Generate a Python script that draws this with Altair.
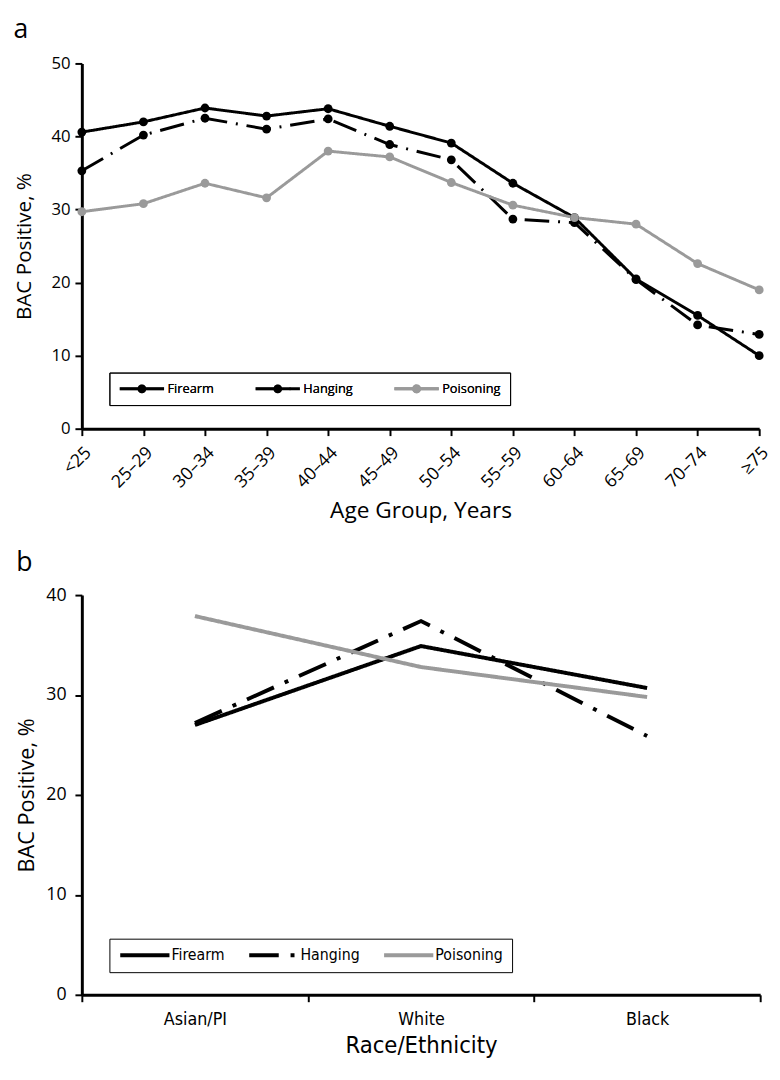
import altair as alt
import pandas as pd

# ---------------- data ----------------
age_groups = ["<25", "25–29", "30–34", "35–39", "40–44", "45–49",
              "50–54", "55–59", "60–64", "65–69", "70–74", "≥75"]
firearm_age = [40.6, 42.0, 43.9, 42.8, 43.8, 41.4, 39.1, 33.6, 28.9, 20.5, 15.5, 10.0]
hanging_age = [35.3, 40.2, 42.5, 41.0, 42.4, 38.9, 36.8, 28.7, 28.2, 20.4, 14.2, 12.9]
poisoning_age = [29.7, 30.8, 33.6, 31.6, 38.0, 37.2, 33.7, 30.6, 28.9, 28.0, 22.6, 19.0]

races = ["Asian/PI", "White", "Black"]
firearm_race = [27.0, 34.9, 30.7]
hanging_race = [27.2, 37.4, 25.9]
poisoning_race = [37.9, 32.8, 29.8]

methods = ["Firearm", "Hanging", "Poisoning"]
method_colors = ["#000000", "#000000", "#9a9a9a"]
y_ticks_age = [0, 10, 20, 30, 40, 50]
y_ticks_race = [0, 10, 20, 30, 40]

SANS = "Open Sans"
NARROW = "Liberation Sans Narrow, DejaVu Sans Condensed, Open Sans"

# legend glyph for panel a: a line with a dot in its middle (unit coordinates)
LINE_DOT = ("M-1,0L1,0"
            "M0.1333,0A0.1333,0.1333,0,1,1,-0.1333,0A0.1333,0.1333,0,1,1,0.1333,0"
            "M0.0533,0A0.0533,0.0533,0,1,1,-0.0533,0A0.0533,0.0533,0,1,1,0.0533,0")

df_age = pd.DataFrame({
    "Age": age_groups * 3,
    "Method": [m for m in methods for _ in age_groups],
    "Value": firearm_age + hanging_age + poisoning_age,
})
df_race = pd.DataFrame({
    "Race": races * 3,
    "Method": [m for m in methods for _ in races],
    "Value": firearm_race + hanging_race + poisoning_race,
})

axis_common = dict(domainColor="black", domainWidth=3, tickColor="black",
                   tickWidth=2, grid=False, labelColor="black",
                   titleColor="black", titleFontWeight="normal")

# ---------------- panel a ----------------
legend_a = alt.Legend(
    title=None, orient="none", legendX=28, legendY=314, direction="horizontal",
    symbolType=LINE_DOT, symbolSize=2025, symbolStrokeWidth=3, clipHeight=15,
    labelFont=SANS, labelFontSize=13, labelColor="black", labelOffset=2,
    columnPadding=40, padding=9, strokeColor="black")

x_age = alt.X("Age:O", sort=age_groups,
              scale=alt.Scale(type="point", padding=0),
              axis=alt.Axis(title="Age Group, Years", titleFont=SANS,
                            titleFontSize=23, titlePadding=9,
                            labelFont=SANS, labelFontSize=18, labelAngle=-45,
                            labelAlign="right", labelBaseline="top",
                            labelPadding=8, tickSize=7, labelOverlap=False,
                            **axis_common))
y_age = alt.Y("Value:Q", scale=alt.Scale(domain=[0, 50], nice=False),
              axis=alt.Axis(values=y_ticks_age, title="BAC Positive, %",
                            titleFont=SANS, titleFontSize=21, titlePadding=17,
                            labelFont=SANS, labelFontSize=17, labelPadding=5,
                            tickSize=7, **axis_common))

lines_a = alt.Chart(df_age).mark_line(strokeWidth=3).encode(
    x=x_age, y=y_age,
    color=alt.Color("Method:N", scale=alt.Scale(domain=methods, range=method_colors),
                    legend=legend_a),
    strokeDash=alt.StrokeDash("Method:N",
                              scale=alt.Scale(domain=methods,
                                              range=[[1, 0], [25, 9, 2, 9], [1, 0]]),
                              legend=legend_a),
)
points_a = alt.Chart(df_age).mark_circle(size=80, opacity=1).encode(
    x=x_age, y=y_age,
    color=alt.Color("Method:N", scale=alt.Scale(domain=methods, range=method_colors),
                    legend=None),
)
panel_a = alt.layer(lines_a, points_a).resolve_scale(color="independent").properties(
    width=688, height=371,
    title=alt.TitleParams("a", anchor="start", frame="bounds", offset=11,
                          font=SANS, fontSize=27, fontWeight="normal", color="black"),
)

# ---------------- panel b ----------------
legend_b = alt.Legend(
    title=None, orient="none", legendX=28, legendY=349, direction="horizontal",
    symbolType="stroke", symbolSize=2500, symbolStrokeWidth=4, clipHeight=15,
    labelFont=NARROW, labelFontSize=16, labelColor="black", labelOffset=0,
    columnPadding=22, padding=9, strokeColor="black")

x_race = alt.X("Race:N", sort=races,
               scale=alt.Scale(type="band", paddingInner=0, paddingOuter=0),
               axis=alt.Axis(title="Race/Ethnicity", titleFont=NARROW,
                             titleFontSize=24, titlePadding=6,
                             labelFont=NARROW, labelFontSize=18, labelAngle=0,
                             labelPadding=9, tickSize=7, tickBand="extent",
                             **axis_common))
y_race = alt.Y("Value:Q", scale=alt.Scale(domain=[0, 40], nice=False),
               axis=alt.Axis(values=y_ticks_race, title="BAC Positive, %",
                             titleFont=SANS, titleFontSize=22, titlePadding=7,
                             labelFont=SANS, labelFontSize=18, labelPadding=9,
                             tickSize=7, **axis_common))

panel_b = alt.Chart(df_race).mark_line(strokeWidth=4).encode(
    x=x_race, y=y_race,
    color=alt.Color("Method:N", scale=alt.Scale(domain=methods, range=method_colors),
                    legend=legend_b),
    strokeDash=alt.StrokeDash("Method:N",
                              scale=alt.Scale(domain=methods,
                                              range=[[1, 0], [30, 12, 4, 12], [1, 0]]),
                              legend=legend_b),
).properties(
    width=689, height=406,
    title=alt.TitleParams("b", anchor="start", frame="bounds", offset=9,
                          font=SANS, fontSize=27, fontWeight="normal", color="black"),
)

chart = alt.vconcat(panel_a, panel_b, spacing=27).resolve_scale(
    color="independent", strokeDash="independent"
).properties(
    padding={"left": 5, "top": 0, "right": 0, "bottom": 0}
).configure_view(stroke=None)

chart.save("out.html", embed_options={"renderer": "svg", "actions": False})
